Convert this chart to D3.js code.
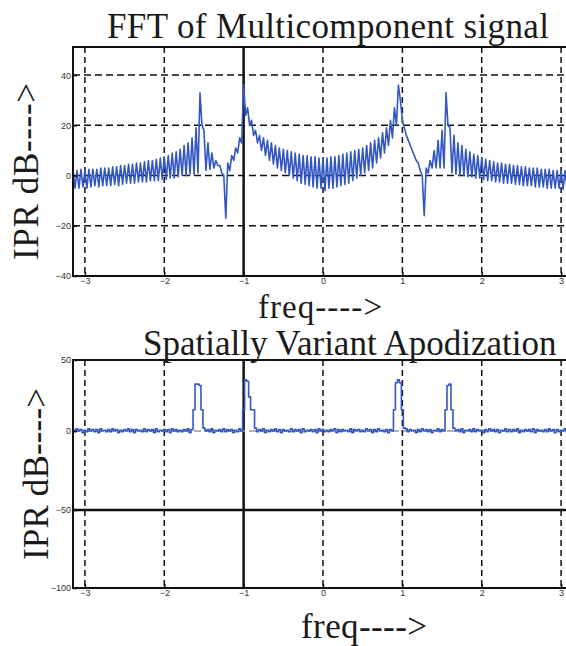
<!DOCTYPE html>
<html>
<head>
  <title>FFT vs Spatially Variant Apodization</title>
  <meta charset="utf-8">
  <script src="https://d3js.org/d3.v7.min.js"></script>
  <style>
    body { margin: 0; background: #fff; }
    svg { display: block; }
    .tick text { font-family: "Liberation Sans", sans-serif; font-size: 9px; fill: #333; }
    .title { font-family: "Liberation Serif", serif; font-size: 35px; fill: #1a1a1a; }
  </style>
</head>
<body>
<script>

// sample grid: first freq and spacing (normalised freq units)
var freqStart = -3.15,
    freqStep = 0.05;

// FFT of the multicomponent signal, dB:
// sidelobe maxima (at each grid freq) and nulls (half a step later)
var fftHi = [
  2, 2, 2.5, 2, 2.5, 2.5, 2.5, 3, 3, 3,
  3.5, 3.5, 4, 4, 4.5, 4.5, 5, 5, 5.5, 6,
  6, 6.5, 7, 7.5, 8, 9, 9.5, 10.5, 12, 13,
  15, 19, 33, 18, 13, 9, 6, 4, 0, 5,
  8, 11, 15, 36, 27, 22, 18, 16, 15, 14,
  13, 12, 11, 10.5, 10, 9.5, 9, 8.5, 8, 8,
  7.5, 7.5, 7, 7, 7, 7.5, 7.5, 8, 8.5, 9,
  9.5, 10, 10.5, 11, 12, 13, 14, 15, 17, 19,
  22, 27, 36, 22, 16, 12, 8, 5, 0, 3,
  6, 10, 14, 18, 33, 19, 16, 13, 12, 10.5,
  9.5, 8.5, 8, 7, 6.5, 6, 5.5, 5, 5, 4.5,
  4.5, 4, 4, 3.5, 3.5, 3, 3, 3, 2.5, 2.5,
  2.5, 2, 2, 2, 2, 1.5, 1.5
];
var fftLo = [
  -5, -5, -4.5, -5, -4.5, -4, -4.5, -4, -4, -4,
  -3.5, -4, -3.5, -3, -3, -3, -2.5, -2.5, -2.5, -2,
  -2, -2, -1.5, -1.5, -1, -1, -0.5, 0, 0, 0.5,
  0.5, 1, 20, 2, 2.5, 3, 4, 1, -17, 2,
  6, 9, 13, 24, 20, 16, 13, 10, 8, 6,
  4.5, 3, 2, 1, 0, -1, -2, -3, -3.5, -4,
  -4.5, -5, -5, -6, -5, -5, -4.5, -4, -3.5, -3,
  -2, -1, 0, 1, 2, 3, 5, 7, 9, 12,
  15, 20, 30, 19, 14, 10, 6, 2, -16, 1,
  3, 3, 3, 3, 20, 1, 0.5, 0, 0, -0.5,
  -0.5, -1, -1, -1.5, -2, -2, -2.5, -2.5, -3, -3,
  -3, -3.5, -3.5, -4, -4, -4, -4.5, -4.5, -4.5, -5,
  -5, -5, -5, -5.5, -5, -5.5, -5.5
];

// after spatially variant apodization, dB, same grid
var svaHi = [
  1, 1.5, 1, 0.5, 1.5, 1, 1, 1.5, 0.5, 1,
  1.5, 1, 0.5, 1, 1.5, 1, 1, 0.5, 1.5, 1,
  1, 1.5, 0.5, 1, 1, 1.5, 1, 0.5, 1, 1.5,
  1, 33, 32, 2, 1, 1.5, 0.5, 1, 1.5, 1,
  1, 0.5, 1.5, 15, 35, 15, 2, 1, 1.5, 0.5,
  1, 1.5, 1, 1, 0.5, 1.5, 1, 1, 1.5, 0.5,
  1, 1, 1.5, 1, 0.5, 1, 1.5, 1, 1, 0.5,
  1.5, 1, 1, 0.5, 1.5, 1, 1, 1.5, 0.5, 1,
  1, 15, 36, 15, 1.5, 1, 0.5, 1, 1.5, 1,
  1, 0.5, 1.5, 1, 15, 33, 2, 1, 1.5, 0.5,
  1, 1.5, 1, 0.5, 1, 1.5, 1, 1, 0.5, 1.5,
  1, 1, 1.5, 0.5, 1, 1, 1.5, 1, 0.5, 1,
  1.5, 1, 1, 0.5, 1.5, 1, 1
];
var svaLo = [
  -0.5, 0, -1, -0.5, 0, -0.5, -1, 0, -0.5, -0.5,
  0, -1, -0.5, 0, -0.5, -1, 0, -0.5, -0.5, 0,
  -1, -0.5, 0, -0.5, -1, 0, -0.5, -0.5, 0, -1,
  15, 33, 15, 0, -0.5, -1, 0, -0.5, -0.5, 0,
  -1, -0.5, 0, 36, 24, 15, -0.5, 0, -1, -0.5,
  0, -0.5, -1, 0, -0.5, -0.5, 0, -1, -0.5, 0,
  -0.5, -1, 0, -0.5, -0.5, 0, -1, -0.5, 0, -0.5,
  -1, 0, -0.5, -0.5, 0, -1, -0.5, 0, -0.5, -1,
  0, 34, 34, 2, -0.5, 0, -1, -0.5, 0, -0.5,
  -1, 0, -0.5, 0, 32, 15, 0, -0.5, -1, 0,
  -0.5, -0.5, 0, -1, -0.5, 0, -0.5, -1, 0, -0.5,
  -0.5, 0, -1, -0.5, 0, -0.5, -1, 0, -0.5, -0.5,
  0, -1, -0.5, 0, -0.5, -1, 0
];

var xTicks = [-3, -2, -1, 0, 1, 2, 3];
var fftTicks = [-40, -20, 0, 20, 40];
var svaTicks = [-100, -50, 0, 50];

var width = 566,
    height = 646;

var svg = d3.select("body").append("svg")
    .attr("width", width)
    .attr("height", height);

var x = d3.scaleLinear().domain([-3.15, 3.15]).range([73, 573]);
var yFft = d3.scaleLinear().domain([-40, 51.2]).range([276, 47]);
// the scanned axis is slightly uneven, so piecewise
var ySva = d3.scaleLinear().domain([-100, -50, 0, 50]).range([588, 510, 431, 360]);

// maxima / nulls -> one trace
function trace(hi, lo) {
  var pts = [];
  hi.forEach(function(h, i) {
    var f = freqStart + i * freqStep;
    pts.push([f, h]);
    pts.push([f + freqStep / 2, lo[i]]);
  });
  return pts;
}

function panel(id, y, yTicks, opts) {
  var y0 = y.range()[y.range().length - 1],
      y1 = y.range()[0],
      x0 = x.range()[0],
      x1 = x.range()[1];

  var g = svg.append("g");

  g.append("clipPath").attr("id", "clip-" + id)
    .append("rect")
      .attr("x", x0).attr("y", y0)
      .attr("width", x1 - x0).attr("height", y1 - y0);

  // vertical grid
  g.selectAll(".vgrid")
      .data(xTicks)
    .enter().append("line")
      .attr("x1", function(d) { return x(d); })
      .attr("x2", function(d) { return x(d); })
      .attr("y1", y0).attr("y2", y1)
      .attr("stroke", "#111")
      .attr("stroke-width", function(d) { return d === -1 ? 2.5 : 1.5; })
      .attr("stroke-dasharray", function(d) { return d === -1 ? null : "6,4"; });

  // horizontal grid
  g.selectAll(".hgrid")
      .data(opts.hgrid)
    .enter().append("line")
      .attr("x1", x0).attr("x2", x1)
      .attr("y1", function(d) { return y(d.v); })
      .attr("y2", function(d) { return y(d.v); })
      .attr("stroke", function(d) { return d.c || "#111"; })
      .attr("stroke-width", function(d) { return d.solid ? 2.5 : 1.5; })
      .attr("stroke-dasharray", function(d) { return d.solid ? null : "7,4"; });

  // signal
  var line = d3.line()
      .x(function(d) { return x(d[0]); })
      .y(function(d) { return y(d[1]); });
  if (opts.step) line.curve(d3.curveStep);

  g.append("path")
      .datum(trace(opts.hi, opts.lo))
      .attr("clip-path", "url(#clip-" + id + ")")
      .attr("d", line)
      .attr("fill", "none")
      .attr("stroke", "#3357c2")
      .attr("stroke-width", 1.6)
      .attr("stroke-linejoin", "round");

  // frame
  g.append("rect")
      .attr("x", x0).attr("y", y0)
      .attr("width", x1 - x0).attr("height", y1 - y0)
      .attr("fill", "none")
      .attr("stroke", "#111")
      .attr("stroke-width", 2);

  // axes, ticks pointing inward
  var xa = g.append("g")
      .attr("transform", "translate(0," + y1 + ")")
      .call(d3.axisBottom(x).tickValues(xTicks).tickSize(-4).tickPadding(2)
        .tickFormat(d3.format("d")));
  var ya = g.append("g")
      .attr("transform", "translate(" + x0 + ",0)")
      .call(d3.axisLeft(y).tickValues(yTicks).tickSize(-4).tickPadding(2)
        .tickFormat(d3.format("d")));
  [xa, ya].forEach(function(a) {
    a.select(".domain").remove();
    a.selectAll(".tick line").attr("stroke", "#111").attr("stroke-width", 1.5);
  });
}

panel("fft", yFft, fftTicks, {
  hi: fftHi, lo: fftLo, step: false,
  hgrid: [{v: 40}, {v: 20}, {v: 0}, {v: -20}]
});

panel("sva", ySva, svaTicks, {
  hi: svaHi, lo: svaLo, step: true,
  hgrid: [{v: 0, c: "#999"}, {v: -50, solid: true}]
});

// titles and labels
svg.append("text").attr("class", "title")
    .attr("x", 107).attr("y", 38)
    .attr("textLength", 442)
    .text("FFT of Multicomponent signal");

svg.append("text").attr("class", "title")
    .attr("x", 258).attr("y", 318)
    .attr("textLength", 124)
    .style("font-size", "33px")
    .text("freq---->");

svg.append("text").attr("class", "title")
    .attr("x", 143).attr("y", 355)
    .text("Spatially Variant Apodization");

svg.append("text").attr("class", "title")
    .attr("x", 301).attr("y", 638)
    .attr("textLength", 126)
    .text("freq---->");

svg.append("text").attr("class", "title")
    .attr("transform", "translate(38,260) rotate(-90)")
    .attr("textLength", 177)
    .text("IPR dB---->");

svg.append("text").attr("class", "title")
    .attr("transform", "translate(48,560) rotate(-90)")
    .attr("textLength", 172)
    .text("IPR dB---->");

</script>
</body>
</html>
